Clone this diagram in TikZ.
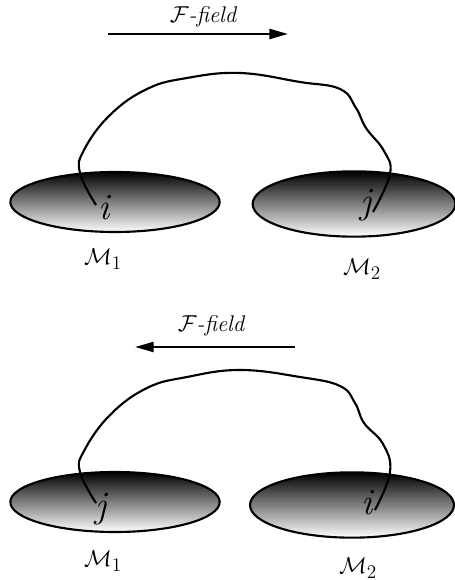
\documentclass[tikz,border=0pt]{standalone}
\usetikzlibrary{shapes.geometric,arrows.meta}
\begin{document}
\begin{tikzpicture}[
  x=0.75pt, y=-0.75pt,
  masse/.style={draw, ellipse, line width=1.6pt, top color=black,
                bottom color=white, minimum width=#1, inner sep=0pt},
  fleche/.style={line width=1.8pt, -{Triangle[length=14pt, width=7.5pt]}},
  lien/.style={line width=1.6pt},
  lbl/.style={font=\fontsize{17}{19}\selectfont\itshape},
  indice/.style={font=\fontsize{28}{30}\selectfont\itshape, inner sep=0pt},
  nom/.style={font=\fontsize{19}{21}\selectfont}
]
  \useasboundingbox (0,0) rectangle (454,580);

  % Haut : champ vers la droite
  \node[lbl] (fa) at (203,17) {$\mathcal{F}$-field};
  \coordinate (fa0) at (108,34);
  \coordinate (fa1) at (288,34);
  \draw[fleche] (fa0) -- (fa1);

  \node[masse=157pt, minimum height=45pt] (m1a) at (115,202) {};
  \node[masse=152pt, minimum height=49pt] (m2a) at (354,204) {};
  \node[indice] (ia) at (104,208) {i};
  \node[indice] (ja) at (366,205) {j};
  \node[nom] (n1a) at (103,259) {$\mathcal{M}_1$};
  \node[nom] (n2a) at (362,269) {$\mathcal{M}_2$};

  \coordinate (sa) at (96,205);
  \coordinate (ea) at (373,212);
  \draw[lien] plot[smooth, tension=0.7] coordinates {(sa) (80,173) (84,150)
    (110,115) (147,89) (187,78) (240,73) (300,82) (340,89) (356,108)
    (366,128) (384,151) (390,174) (ea)};

  % Bas : champ vers la gauche
  \node[lbl] (fb) at (211,326) {$\mathcal{F}$-field};
  \coordinate (fb0) at (295,347);
  \coordinate (fb1) at (135,347);
  \draw[fleche] (fb0) -- (fb1);

  \node[masse=157pt, minimum height=45pt] (m1b) at (115,502) {};
  \node[masse=153pt, minimum height=49pt] (m2b) at (352,505) {};
  \node[indice] (jb) at (101,509) {j};
  \node[indice] (ib) at (367,503) {i};
  \node[nom] (n1b) at (103,561) {$\mathcal{M}_1$};
  \node[nom] (n2b) at (358,568) {$\mathcal{M}_2$};

  \coordinate (sb) at (96,503);
  \coordinate (eb) at (375,510);
  \draw[lien] plot[smooth, tension=0.7] coordinates {(sb) (80,472) (84,451)
    (110,415) (147,388) (187,377) (240,370) (300,377) (340,386) (355,403)
    (364,423) (383,444) (390,472) (eb)};
\end{tikzpicture}
\end{document}
